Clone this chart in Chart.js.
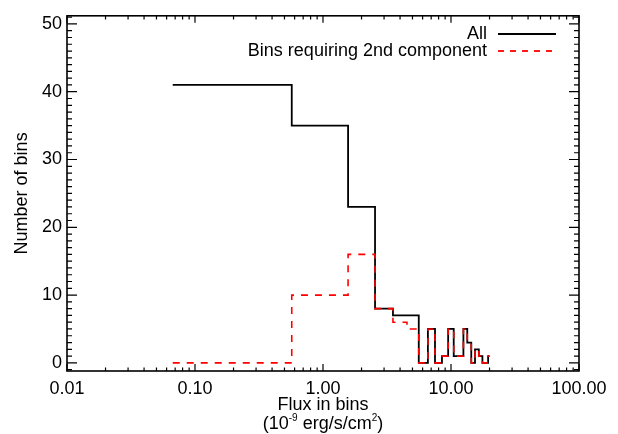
<!DOCTYPE html>
<html>
<head>
<meta charset="utf-8">
<script src="https://cdn.jsdelivr.net/npm/chart.js@4.4.1/dist/chart.umd.min.js"></script>
<style>
  html, body { margin: 0; padding: 0; background: #fff; }
  #wrap { width: 618px; height: 434px; }
</style>
</head>
<body>
<div id="wrap"><canvas id="chart" width="618" height="434"></canvas></div>
<script>
// histogram bin edges (flux, 1e-9 erg/s/cm^2) and counts per bin
const binEdges = [0.067, 0.57, 1.57, 2.55, 3.52, 4.53, 5.6, 6.6, 7.5, 8.5, 9.5, 10.5, 11.5, 12.5, 13.4, 14.4, 15.4, 16.5, 17.6, 18.5, 19.5, 20.0];
const allCounts = [41, 35, 23, 8, 7, 7, 0, 5, 0, 1, 5, 1, 1, 5, 3, 0, 2, 1, 0, 0, 1];
const secondCounts = [0, 10, 16, 8, 6, 5, 0, 5, 0, 1, 5, 1, 1, 5, 3, 0, 2, 1, 0, 0, 1];
const xTicks = [0.01, 0.1, 1, 10, 100];
const yTicks = [0, 10, 20, 30, 40, 50];
const seriesNames = ["All", "Bins requiring 2nd component"];

const FONT = "Liberation Sans, Arial, Helvetica, sans-serif";
const FS = 18;

// one point per bin start, plus the closing edge
function steps(counts) {
  const pts = counts.map((c, i) => ({ x: binEdges[i], y: c }));
  pts.push({ x: binEdges[binEdges.length - 1], y: counts[counts.length - 1] });
  return pts;
}

/* ---------------- FRAME, TICKS, TITLES, LEGEND ---------------- */
const framePlugin = {
  id: "frame",
  afterDraw(chart) {
    const { ctx, chartArea: a, scales: { x, y } } = chart;
    ctx.save();
    ctx.strokeStyle = "#000";
    ctx.lineWidth = 1.6;
    ctx.strokeRect(a.left, a.top, a.right - a.left, a.bottom - a.top);

    ctx.lineWidth = 1.2;
    ctx.beginPath();
    for (let e = -2; e <= 2; e++) {
      for (let m = 1; m <= 9; m++) {
        const v = m * Math.pow(10, e);
        if (v > 100) break;
        const px = x.getPixelForValue(v);
        const len = m === 1 ? 7 : 3.6;
        ctx.moveTo(px, a.bottom); ctx.lineTo(px, a.bottom - len);
        ctx.moveTo(px, a.top); ctx.lineTo(px, a.top + len);
      }
    }
    for (let v = -1; v <= 51; v++) {
      const py = y.getPixelForValue(v);
      const len = v % 10 === 0 ? 10 : 5;
      ctx.moveTo(a.left, py); ctx.lineTo(a.left + len, py);
      ctx.moveTo(a.right, py); ctx.lineTo(a.right - len, py);
    }
    ctx.stroke();

    // axis titles
    ctx.fillStyle = "#000";
    ctx.textBaseline = "middle";
    ctx.textAlign = "center";
    ctx.font = FS + "px " + FONT;
    const cx = (a.left + a.right) / 2;
    ctx.fillText("Flux in bins", cx, 405);

    const parts = [["(10", FS, 0], ["-9", 10, -6], [" erg/s/cm", FS, 0], ["2", 10, -6], [")", FS, 0]];
    let total = 0;
    parts.forEach(p => { ctx.font = p[1] + "px " + FONT; total += ctx.measureText(p[0]).width; });
    let tx = cx - total / 2;
    ctx.textAlign = "left";
    parts.forEach(p => {
      ctx.font = p[1] + "px " + FONT;
      ctx.fillText(p[0], tx, 424 + p[2]);
      tx += ctx.measureText(p[0]).width;
    });

    ctx.save();
    ctx.translate(22, (a.top + a.bottom) / 2);
    ctx.rotate(-Math.PI / 2);
    ctx.textAlign = "center";
    ctx.font = FS + "px " + FONT;
    ctx.fillText("Number of bins", 0, 0);
    ctx.restore();

    // legend
    ctx.textAlign = "right";
    ctx.textBaseline = "alphabetic";
    ctx.font = FS + "px " + FONT;
    ctx.fillText(seriesNames[0], 487, 39);
    ctx.fillText(seriesNames[1], 487, 56);
    ctx.lineWidth = 1.8;
    ctx.beginPath();
    ctx.moveTo(498, 34); ctx.lineTo(556, 34);
    ctx.stroke();
    ctx.strokeStyle = "#ff0000";
    ctx.setLineDash([6, 6]);
    ctx.beginPath();
    ctx.moveTo(498, 51); ctx.lineTo(556, 51);
    ctx.stroke();
    ctx.restore();
  },
};

/* ---------------- CHART ---------------- */
new Chart(document.getElementById("chart"), {
  type: "line",
  data: {
    datasets: [
      {
        label: seriesNames[0],
        data: steps(allCounts),
        borderColor: "#000000",
        borderWidth: 1.8,
        stepped: true,
        pointRadius: 0,
        fill: false,
        order: 2,
      },
      {
        label: seriesNames[1],
        data: steps(secondCounts),
        borderColor: "#ff0000",
        borderWidth: 1.6,
        borderDash: [7, 7],
        stepped: true,
        pointRadius: 0,
        fill: false,
        order: 1,
      },
    ],
  },
  options: {
    responsive: false,
    animation: false,
    devicePixelRatio: 1,
    layout: { padding: { top: 9, right: 39, left: 0, bottom: 0 } },
    plugins: { legend: { display: false }, tooltip: { enabled: false } },
    scales: {
      x: {
        type: "logarithmic",
        min: 0.01,
        max: 100,
        grid: { display: false, drawTicks: false },
        border: { display: false },
        ticks: {
          color: "#000",
          font: { family: FONT, size: FS },
          padding: 7,
          maxRotation: 0,
          autoSkip: false,
          callback: (v) => Number(v).toFixed(2),
        },
        afterBuildTicks: (s) => { s.ticks = xTicks.map((v) => ({ value: v })); },
        afterFit: (s) => { s.height = 63; },
      },
      y: {
        type: "linear",
        min: -1.2,
        max: 51.2,
        grid: { display: false, drawTicks: false },
        border: { display: false },
        ticks: {
          color: "#000",
          font: { family: FONT, size: FS },
          padding: 5,
          callback: (v) => v,
        },
        afterBuildTicks: (s) => { s.ticks = yTicks.map((v) => ({ value: v })); },
        afterFit: (s) => { s.width = 67; },
      },
    },
  },
  plugins: [framePlugin],
});
</script>
</body>
</html>
